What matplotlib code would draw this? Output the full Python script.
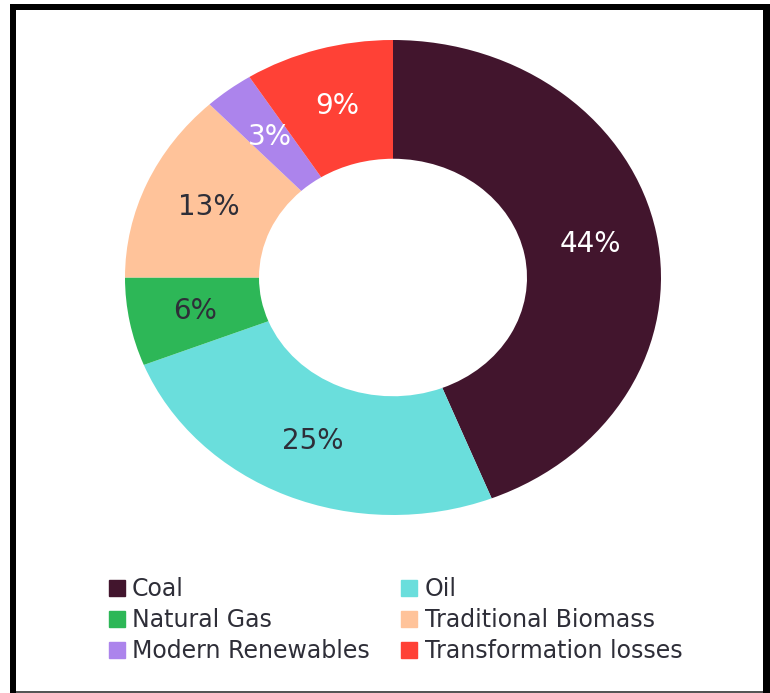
import matplotlib.pyplot as plt
from matplotlib.lines import Line2D
from matplotlib.patches import Rectangle

# energy mix shares (%)
labels = ['Coal', 'Oil', 'Natural Gas', 'Traditional Biomass', 'Modern Renewables', 'Transformation losses']
shares = [44, 25, 6, 13, 3, 9]
colors = ['#42152D', '#6ADEDC', '#2DB757', '#FFC39A', '#AC84EC', '#FF4136']
text_colors = ['white', '#2e2e38', '#2e2e38', '#2e2e38', 'white', 'white']

W, H = 770, 693
fig = plt.figure(figsize=(W / 100, H / 100), dpi=100)

# pie is slightly stretched horizontally in the original
ax = fig.add_axes([125 / W, 1 - 515 / H, 536 / W, 475 / H])
wedges, texts, autotexts = ax.pie(shares, colors=colors, startangle=90, counterclock=False,
                                  autopct='%d%%', pctdistance=0.75,
                                  wedgeprops=dict(width=0.5, linewidth=0),
                                  textprops=dict(fontsize=20))
for t, c in zip(autotexts, text_colors):
    t.set_color(c)
ax.set_aspect('auto')
ax.set_xlim(-1, 1)
ax.set_ylim(-1, 1)
ax.axis('off')

# legend, row-wise ordering in 2 columns
order = [0, 2, 4, 1, 3, 5]
handles = [Line2D([], [], marker='s', linestyle='', markersize=11, color=colors[i]) for i in order]
fig.legend(handles, [labels[i] for i in order], ncol=2, loc='upper left',
           bbox_to_anchor=(99 / W, 1 - 568 / H), frameon=False, fontsize=17,
           handlelength=0.7, handletextpad=0.3, columnspacing=1.32, labelspacing=0.29,
           labelcolor='#2e2e38', borderaxespad=0)

# frame around the picture
tf = fig.transFigure
def frame_rect(x0, y0, x1, y1, color):
    # pixel box (top-left origin) -> figure coords
    fig.add_artist(Rectangle((x0 / W, 1 - y1 / H), (x1 - x0) / W, (y1 - y0) / H,
                             facecolor=color, edgecolor='none', transform=tf))

frame_rect(10, 4, 770, 10, 'black')
frame_rect(10, 4, 16, 693, 'black')
frame_rect(763, 4, 770, 693, 'black')
frame_rect(16, 690.5, 763, 693, '#555555')

fig.savefig('out.png', dpi=100)
